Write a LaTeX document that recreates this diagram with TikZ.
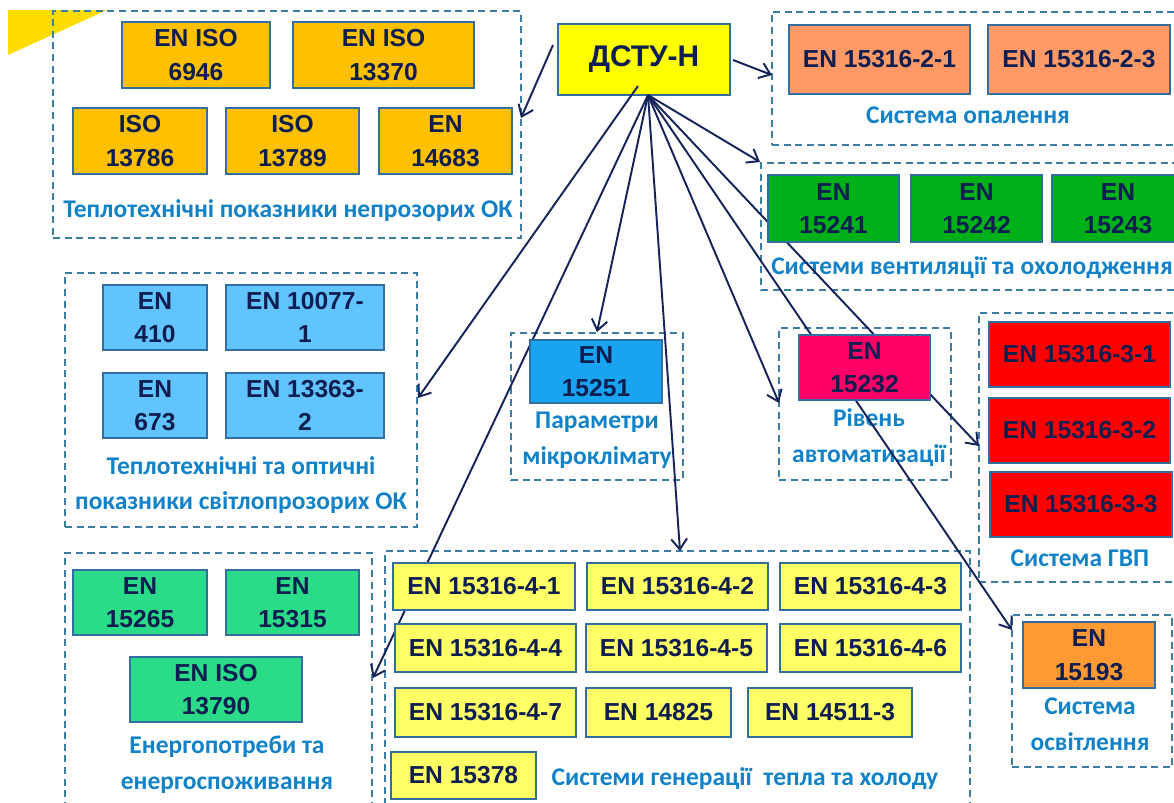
\documentclass[tikz,border=0pt]{standalone}
\usepackage{fontspec}
\setmainfont{Liberation Sans}
\newfontfamily\lblfont{Carlito}
\usetikzlibrary{arrows.meta}
\definecolor{cOrange}{RGB}{255,192,0}
\definecolor{cYel}{RGB}{255,255,0}
\definecolor{cSalmon}{RGB}{255,153,102}
\definecolor{cGreen}{RGB}{0,176,24}
\definecolor{cLBlue}{RGB}{97,196,255}
\definecolor{cMBlue}{RGB}{24,164,240}
\definecolor{cMag}{RGB}{255,0,102}
\definecolor{cRed}{RGB}{255,0,0}
\definecolor{cLOrange}{RGB}{255,153,51}
\definecolor{cEGreen}{RGB}{42,219,136}
\definecolor{cGYel}{RGB}{255,255,102}
\definecolor{cBorder}{RGB}{50,110,160}
\definecolor{cText}{RGB}{15,30,80}
\definecolor{cLabel}{RGB}{18,130,200}
\definecolor{cDash}{RGB}{60,125,165}
\definecolor{cArrow}{RGB}{20,35,90}
\definecolor{cTri}{RGB}{255,220,0}
\pgfdeclarelayer{grp}
\pgfdeclarelayer{lines}
\pgfsetlayers{grp,lines,main}
\tikzset{
  stdbox/.style={draw=cBorder, line width=0.8pt, inner sep=0pt, outer sep=0pt,
    align=center, text=cText, font=\bfseries\fontsize{14}{19}\selectfont},
  grpbox/.style={draw=cDash, line width=0.85pt, dash pattern=on 4pt off 2.6pt,
    inner sep=0pt, outer sep=0pt},
  lbl/.style={text=cLabel, align=center, inner sep=0pt,
    font=\lblfont\bfseries\fontsize{14.5}{20.4}\selectfont},
  conn/.style={draw=cArrow, line width=1.1pt,
    -{Straight Barb[length=6pt,width=9pt,line width=1.1pt]}}
}
\newcommand\bx[7]{\node[stdbox,fill=#6,minimum width={(#4-#2)*0.02cm},minimum height={(#5-#3)*0.02cm}] (#1) at ({(#2+#4)/2},{(#3+#5)/2}) {#7};}
\newcommand\grp[5]{\node[grpbox,minimum width={(#4-#2)*0.02cm},minimum height={(#5-#3)*0.02cm}] (#1) at ({(#2+#4)/2},{(#3+#5)/2}) {};}
\begin{document}
\begin{tikzpicture}[x=0.02cm,y=-0.02cm]
\useasboundingbox (0,0) rectangle (1174,802);
\clip (0,0) rectangle (1174,802);
\begin{pgfonlayer}{grp}
\fill[cTri] (8,10) -- (107,10) -- (8,55) -- cycle;
\grp{g1}{53}{11}{521}{238}
\grp{g2}{772}{12}{1185}{145}
\grp{g3}{761}{163}{1185}{290}
\grp{g4}{65}{273}{417}{527}
\grp{g5}{511}{333}{683}{480}
\grp{g6}{779}{328}{951}{480}
\grp{g7}{979}{313}{1185}{582}
\grp{g8}{1012}{615}{1172}{767}
\grp{g9}{65}{553}{372}{815}
\grp{g10}{385}{551}{970}{815}
\node[lbl] (t1) at (288,211) {Теплотехнічні показники непрозорих ОК};
\node[lbl] (t2) at (968,115) {Система опалення};
\node[lbl] (t3) at (972,268) {Системи вентиляції та охолодження};
\node[lbl] (t4) at (241,485) {Теплотехнічні та оптичні\\показники світлопрозорих ОК};
\node[lbl] (t5) at (597,440) {Параметри\\мікроклімату};
\node[lbl] (t6) at (869,438) {Рівень\\автоматизації};
\node[lbl] (t7) at (1080,558) {Система ГВП};
\node[lbl] (t8) at (1090,724) {Система\\освітлення};
\node[lbl] (t9) at (227,765) {Енергопотреби та\\енергоспоживання};
\node[lbl] (t10) at (745,779) {Системи генерації\ \ тепла та холоду};
\bx{dstu}{558}{24}{730}{95}{cYel}{\fontsize{17}{20}\selectfont ДСТУ-Н}
\end{pgfonlayer}
% group 1
\bx{b1}{122}{22}{270}{88}{cOrange}{EN ISO\\6946}
\bx{b2}{293}{22}{474}{88}{cOrange}{EN ISO\\13370}
\bx{b3}{73}{108}{207}{174}{cOrange}{ISO\\13786}
\bx{b4}{226}{108}{359}{174}{cOrange}{ISO\\13789}
\bx{b5}{379}{108}{512}{174}{cOrange}{EN\\14683}
% heating
\bx{h1}{789}{25}{970}{94}{cSalmon}{EN 15316-2-1}
\bx{h2}{988}{25}{1170}{94}{cSalmon}{EN 15316-2-3}
% ventilation
\bx{v1}{768}{175}{899}{242}{cGreen}{EN\\15241}
\bx{v2}{911}{175}{1042}{242}{cGreen}{EN\\15242}
\bx{v3}{1052}{175}{1184}{242}{cGreen}{EN\\15243}
% glazing
\bx{w1}{103}{285}{207}{350}{cLBlue}{EN\\410}
\bx{w2}{226}{285}{384}{350}{cLBlue}{EN 10077-\\1}
\bx{w3}{103}{373}{207}{438}{cLBlue}{EN\\673}
\bx{w4}{226}{373}{384}{438}{cLBlue}{EN 13363-\\2}
% microclimate
\bx{m1}{530}{340}{662}{403}{cMBlue}{EN\\15251}
% automation
\bx{a1}{799}{335}{930}{400}{cMag}{EN\\15232}
% DHW
\bx{d1}{989}{322}{1170}{387}{cRed}{EN 15316-3-1}
\bx{d2}{989}{398}{1170}{463}{cRed}{EN 15316-3-2}
\bx{d3}{990}{472}{1172}{537}{cRed}{EN 15316-3-3}
% lighting
\bx{l1}{1023}{622}{1155}{688}{cLOrange}{EN\\15193}
% energy
\bx{e1}{73}{570}{207}{635}{cEGreen}{EN\\15265}
\bx{e2}{226}{570}{359}{635}{cEGreen}{EN\\15315}
\bx{e3}{130}{657}{302}{722}{cEGreen}{EN ISO\\13790}
% generation
\bx{k1}{393}{563}{575}{610}{cGYel}{EN 15316-4-1}
\bx{k2}{587}{563}{768}{610}{cGYel}{EN 15316-4-2}
\bx{k3}{780}{563}{961}{610}{cGYel}{EN 15316-4-3}
\bx{k4}{395}{624}{576}{672}{cGYel}{EN 15316-4-4}
\bx{k5}{586}{624}{767}{672}{cGYel}{EN 15316-4-5}
\bx{k6}{780}{624}{961}{672}{cGYel}{EN 15316-4-6}
\bx{k7}{395}{688}{576}{737}{cGYel}{EN 15316-4-7}
\bx{k8}{586}{688}{731}{737}{cGYel}{EN 14825}
\bx{k9}{748}{688}{912}{737}{cGYel}{EN 14511-3}
\bx{k10}{391}{752}{536}{799}{cGYel}{EN 15378}
% connectors
\coordinate (hub) at (648,95);
\coordinate (sA) at (553,45);
\coordinate (sB) at (733,60);
\coordinate (sD) at (638,86);
\coordinate (tA) at (521,118);
\coordinate (tB) at (772,75);
\coordinate (tC) at (760,162);
\coordinate (tD) at (418,398);
\coordinate (tE) at (597,332);
\coordinate (tF) at (680,551);
\coordinate (tG) at (779,403);
\coordinate (tH) at (1012,630);
\coordinate (tI) at (979,446);
\coordinate (tJ) at (373,678);
\begin{pgfonlayer}{lines}
\draw[conn] (sA) -- (tA);
\draw[conn] (sB) -- (tB);
\draw[conn] (hub) -- (tC);
\draw[conn] (sD) -- (tD);
\draw[conn] (hub) -- (tE);
\draw[conn] (hub) -- (tF);
\draw[conn] (hub) -- (tG);
\draw[conn] (hub) -- (tH);
\draw[conn] (hub) -- (tI);
\draw[conn] (hub) -- (tJ);
\end{pgfonlayer}
\end{tikzpicture}
\end{document}
